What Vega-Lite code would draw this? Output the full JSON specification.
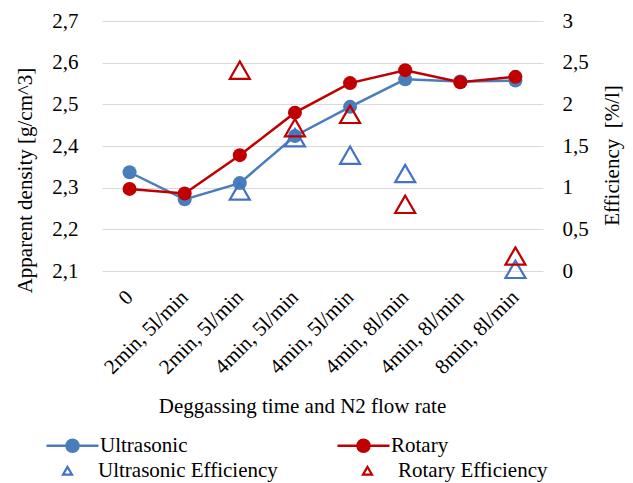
{
  "$schema": "https://vega.github.io/schema/vega-lite/v6.json",
  "width": 441,
  "height": 250,
  "autosize": {"type": "none"},
  "padding": {"left": 102, "top": 21, "right": 90, "bottom": 212},
  "background": "white",
  "config": {
    "view": {"stroke": null},
    "font": "Liberation Serif",
    "axis": {"labelFont": "Liberation Serif", "titleFont": "Liberation Serif", "labelFontSize": 21, "titleFontSize": 21, "labelColor": "#000000", "titleColor": "#000000", "titleFontWeight": "normal", "domain": false, "ticks": false},
    "legend": {"labelFont": "Liberation Serif", "labelFontSize": 21, "labelColor": "#000000", "labelLimit": 400}
  },
  "datasets": {
    "density": [
      {"i": 0, "s": "Ultrasonic", "d": 2.337},
      {"i": 1, "s": "Ultrasonic", "d": 2.272},
      {"i": 2, "s": "Ultrasonic", "d": 2.311},
      {"i": 3, "s": "Ultrasonic", "d": 2.424},
      {"i": 4, "s": "Ultrasonic", "d": 2.494},
      {"i": 5, "s": "Ultrasonic", "d": 2.560},
      {"i": 6, "s": "Ultrasonic", "d": 2.555},
      {"i": 7, "s": "Ultrasonic", "d": 2.557},
      {"i": 0, "s": "Rotary", "d": 2.297},
      {"i": 1, "s": "Rotary", "d": 2.286},
      {"i": 2, "s": "Rotary", "d": 2.378},
      {"i": 3, "s": "Rotary", "d": 2.480},
      {"i": 4, "s": "Rotary", "d": 2.551},
      {"i": 5, "s": "Rotary", "d": 2.582},
      {"i": 6, "s": "Rotary", "d": 2.553},
      {"i": 7, "s": "Rotary", "d": 2.566}
    ],
    "efficiency": [
      {"i": 2, "s": "Ultrasonic Efficiency", "e": 0.96},
      {"i": 3, "s": "Ultrasonic Efficiency", "e": 1.60},
      {"i": 4, "s": "Ultrasonic Efficiency", "e": 1.39},
      {"i": 5, "s": "Ultrasonic Efficiency", "e": 1.17},
      {"i": 7, "s": "Ultrasonic Efficiency", "e": 0.02},
      {"i": 2, "s": "Rotary Efficiency", "e": 2.41},
      {"i": 3, "s": "Rotary Efficiency", "e": 1.72},
      {"i": 4, "s": "Rotary Efficiency", "e": 1.88},
      {"i": 5, "s": "Rotary Efficiency", "e": 0.80},
      {"i": 7, "s": "Rotary Efficiency", "e": 0.18}
    ]
  },
  "encoding": {
    "x": {
      "field": "i", "type": "ordinal",
      "scale": {"type": "point", "padding": 0.5, "domain": [0, 1, 2, 3, 4, 5, 6, 7]},
      "axis": {
        "labelExpr": "['0', '2min, 5l/min', '2min, 5l/min', '4min, 5l/min', '4min, 5l/min', '4min, 8l/min', '4min, 8l/min', '8min, 8l/min'][datum.value]",
        "labelAngle": -45, "labelPadding": 15, "labelOffset": -8, "grid": false,
        "title": "Deggassing time and N2 flow rate",
        "titleX": 200, "titleY": 135, "titleBaseline": "middle", "titleAlign": "center"
      }
    }
  },
  "layer": [
    {
      "data": {"name": "density"},
      "encoding": {
        "y": {
          "field": "d", "type": "quantitative",
          "scale": {"domain": [2.1, 2.7], "nice": false, "zero": false},
          "axis": {
            "values": [2.1, 2.2, 2.3, 2.4, 2.5, 2.6, 2.7],
            "labelExpr": "replace(format(datum.value, '.1f'), '.', ',')",
            "labelPadding": 24, "grid": true, "gridColor": "#d9d9d9", "gridWidth": 1,
            "title": "Apparent density [g/cm^3]",
            "titleAngle": 270, "titleX": -77, "titleY": 159, "titleBaseline": "middle", "titleAlign": "center"
          }
        }
      },
      "layer": [
        {
          "mark": {"type": "line", "strokeWidth": 2.5},
          "encoding": {
            "stroke": {
              "field": "s", "type": "nominal",
              "scale": {"domain": ["Ultrasonic", "Rotary"], "range": ["#4a7ebb", "#c00000"]},
              "legend": {
                "title": null, "orient": "none", "legendX": -40, "legendY": 414, "columns": 2, "columnPadding": 144, "padding": 0,
                "symbolType": "M-5.2,0L5.2,0M-1.2,0A1.2,1.2,0,1,0,1.2,0A1.2,1.2,0,1,0,-1.2,0Z",
                "symbolSize": 100, "labelOffset": 17, "symbolStrokeWidth": 2.5, "symbolOpacity": 1
              }
            }
          }
        },
        {
          "mark": {"type": "point", "shape": "circle", "filled": true, "opacity": 1, "size": 196},
          "encoding": {
            "fill": {
              "field": "s", "type": "nominal",
              "scale": {"domain": ["Ultrasonic", "Rotary"], "range": ["#4a7ebb", "#c00000"]},
              "legend": {
                "title": null, "orient": "none", "legendX": -40, "legendY": 414, "columns": 2, "columnPadding": 144, "padding": 0,
                "symbolType": "M-5.2,0L5.2,0M-1.2,0A1.2,1.2,0,1,0,1.2,0A1.2,1.2,0,1,0,-1.2,0Z",
                "symbolSize": 100, "labelOffset": 17, "symbolStrokeWidth": 2.5, "symbolOpacity": 1
              }
            }
          }
        }
      ]
    },
    {
      "data": {"name": "efficiency"},
      "mark": {"type": "point", "shape": "triangle-up", "filled": false, "opacity": 1, "size": 400, "strokeWidth": 2.2},
      "encoding": {
        "color": {
          "field": "s", "type": "nominal",
          "scale": {"domain": ["Ultrasonic Efficiency", "Rotary Efficiency"], "range": ["#4472c4", "#c00000"]},
          "legend": {
            "title": null, "orient": "none", "legendX": -45, "legendY": 439, "columns": 2, "columnPadding": 79, "padding": 0,
            "symbolType": "triangle-up", "symbolSize": 81, "labelOffset": 20, "symbolStrokeWidth": 2.2, "symbolOpacity": 1
          }
        },
        "y": {
          "field": "e", "type": "quantitative",
          "scale": {"domain": [0, 3], "nice": false},
          "axis": {
            "orient": "right",
            "values": [0, 0.5, 1, 1.5, 2, 2.5, 3],
            "labelExpr": "replace(format(datum.value, '~g'), '.', ',')",
            "labelPadding": 19, "grid": false,
            "title": "Efficiency\u00a0 [%/l]",
            "titleAngle": 270, "titleX": 69, "titleY": 134, "titleBaseline": "middle", "titleAlign": "center"
          }
        }
      }
    }
  ],
  "resolve": {"scale": {"y": "independent"}}
}
